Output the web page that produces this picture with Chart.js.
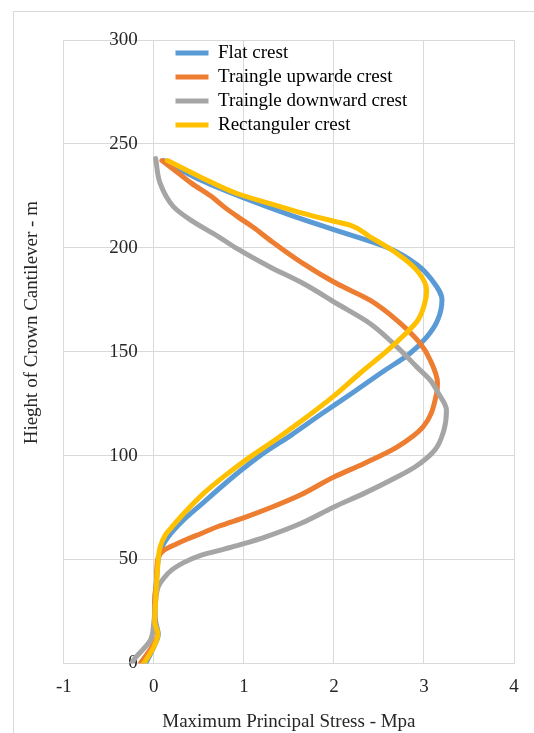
<!DOCTYPE html>
<html>
<head>
<meta charset="utf-8">
<title>Maximum Principal Stress</title>
<script src="https://cdn.jsdelivr.net/npm/chart.js@4.4.1/dist/chart.umd.min.js"></script>
<style>
    html, body { margin: 0; padding: 0; background: #fff; overflow: hidden; }
    #frame { position: absolute; left: 13px; top: 11px; width: 700px; height: 900px; border: 1px solid #d9d9d9; }
    #wrap { position: absolute; left: 0; top: 0; width: 534px; height: 733px; }
</style>
</head>
<body>
<div id="frame"></div>
<div id="wrap"><canvas id="stressChart"></canvas></div>
<script>
// series names
const seriesNames = ['Flat crest', 'Traingle upwarde crest', 'Traingle downward crest', 'Rectanguler crest'];

// flat crest (height m / stress Mpa)
const flatHeight = [242, 232, 224, 216, 208, 200, 192, 185, 175, 165, 157, 149, 140, 130, 120, 110, 100, 94, 85, 77, 69, 62, 56, 50, 40, 30, 20, 14, 8, 0];
const flatStress = [0.11, 0.55, 1.0, 1.5, 2.05, 2.6, 2.92, 3.08, 3.2, 3.15, 3.03, 2.84, 2.53, 2.2, 1.86, 1.53, 1.18, 1.0, 0.75, 0.54, 0.33, 0.18, 0.09, 0.05, 0.03, 0.01, 0.02, 0.05, 0.0, -0.09];

// triangle upward crest
const upHeight = [242, 235, 231, 225, 219.7, 215, 210, 203.7, 192.4, 182.8, 174.8, 165.1, 153.9, 145.9, 135, 129.8, 113.8, 104.1, 96.1, 89.7, 80.9, 75, 70.4, 66, 62.4, 60, 57.5, 54.4, 49.6, 40, 30, 20, 14, 8, 0];
const upStress = [0.09, 0.3, 0.42, 0.63, 0.78, 0.93, 1.1, 1.29, 1.66, 2.03, 2.4, 2.7, 2.96, 3.07, 3.15, 3.14, 2.99, 2.7, 2.33, 2.0, 1.62, 1.3, 1.02, 0.72, 0.52, 0.38, 0.25, 0.11, 0.04, 0.03, 0.01, 0.01, 0.04, -0.02, -0.15];

// triangle downward crest
const downHeight = [243, 231, 219.7, 213.3, 205.3, 199.7, 190.8, 182.8, 173.2, 163.6, 152.3, 142.7, 136.3, 130, 121.8, 112, 102.6, 94.5, 89.7, 81.7, 75.3, 67.3, 61, 57.6, 55, 52, 48.5, 45, 41, 37, 30, 20, 11, 3, 0];
const downStress = [0.02, 0.07, 0.22, 0.41, 0.72, 0.92, 1.29, 1.66, 2.03, 2.4, 2.7, 2.92, 3.07, 3.16, 3.25, 3.22, 3.12, 2.9, 2.7, 2.33, 2.0, 1.63, 1.25, 1.0, 0.78, 0.52, 0.33, 0.2, 0.11, 0.05, 0.02, 0.0, -0.04, -0.2, -0.25];

// rectangular crest
const rectHeight = [242, 234, 226, 221.3, 216.6, 212.5, 210.9, 205.3, 197.3, 189.2, 179.6, 172, 165, 158, 150, 140, 128, 115.4, 107, 99.4, 90, 81.7, 72, 65.6, 62, 56, 45, 30, 20, 14, 8, 0];
const rectStress = [0.15, 0.52, 0.93, 1.29, 1.66, 2.03, 2.18, 2.4, 2.7, 2.92, 3.03, 3.0, 2.93, 2.78, 2.58, 2.3, 1.98, 1.6, 1.33, 1.07, 0.78, 0.55, 0.33, 0.2, 0.13, 0.07, 0.04, 0.02, 0.01, 0.045, 0.0, -0.11];

// axis ticks
const xTicks = [-1, 0, 1, 2, 3, 4];
const yTicks = [0, 50, 100, 150, 200, 250, 300];

const lineColors = ['#5B9BD5', '#ED7D31', '#A5A5A5', '#FFC000'];

function toPoints(heights, stresses) {
    return heights.map((h, i) => ({ x: stresses[i], y: h }));
}

const serif = { family: "'Liberation Serif', 'Times New Roman', serif", size: 19 };
const textColor = '#262626';
const gridColor = '#d9d9d9';

// puts the legend box inside the plot and lifts the y title like the excel chart
const placeBoxes = {
    id: 'placeBoxes',
    afterLayout(chart) {
        var lg = chart.legend;
        if (lg) {
            var w = lg.width, h = lg.height;
            lg.left = 170.5; lg.top = 38.5;
            lg.right = lg.left + w; lg.bottom = lg.top + h;
        }
        var t = chart.scales.yTitle;
        if (t) { t.top -= 29; t.bottom -= 29; }
    }
};

var allPoints = [
    toPoints(flatHeight, flatStress),
    toPoints(upHeight, upStress),
    toPoints(downHeight, downStress),
    toPoints(rectHeight, rectStress)
];

// later series sit on top, like excel
var drawOrder = [3, 2, 1, 0];

var datasets = seriesNames.map((name, i) => ({
    label: name,
    data: allPoints[i],
    borderColor: lineColors[i],
    backgroundColor: lineColors[i],
    borderWidth: 5,
    borderCapStyle: 'round',
    borderJoinStyle: 'round',
    pointRadius: 0,
    pointHoverRadius: 0,
    showLine: true,
    cubicInterpolationMode: 'monotone',
    order: drawOrder[i]
}));

var ctx = document.getElementById('stressChart').getContext('2d');
var stressChart = new Chart(ctx, {
    type: 'scatter',
    data: { datasets: datasets },
    plugins: [placeBoxes],
    options: {
        responsive: true,
        maintainAspectRatio: false,
        animation: false,
        devicePixelRatio: 1,
        indexAxis: 'y',
        layout: { padding: { left: 13, top: 40, right: 20, bottom: 0 } },
        plugins: {
            tooltip: { enabled: false },
            legend: {
                position: 'chartArea',
                align: 'start',
                labels: {
                    usePointStyle: true,
                    pointStyle: 'line',
                    pointStyleWidth: 33,
                    padding: 5,
                    color: '#000',
                    font: serif,
                    sort: (a, b) => a.datasetIndex - b.datasetIndex
                }
            }
        },
        scales: {
            x: {
                type: 'linear',
                position: 'bottom',
                min: xTicks[0],
                max: xTicks[xTicks.length - 1],
                afterBuildTicks: (scale) => { scale.ticks = xTicks.map(v => ({ value: v })); },
                ticks: { padding: 12, color: textColor, font: serif },
                grid: { color: gridColor, lineWidth: 1, drawTicks: false },
                border: { color: gridColor },
                title: {
                    display: true,
                    text: 'Maximum Principal Stress - Mpa',
                    color: textColor,
                    font: serif,
                    padding: { top: 0, bottom: 0 }
                }
            },
            y: {
                type: 'linear',
                // labels sit just left of the x = 0 line
                position: { x: -0.18 },
                min: yTicks[0],
                max: yTicks[yTicks.length - 1],
                afterBuildTicks: (scale) => { scale.ticks = yTicks.map(v => ({ value: v })); },
                ticks: { padding: 0, color: textColor, font: serif },
                grid: { color: gridColor, lineWidth: 1, drawTicks: false },
                border: { display: false }
            },
            yTitle: {
                type: 'linear',
                position: 'left',
                min: yTicks[0],
                max: yTicks[yTicks.length - 1],
                ticks: { display: false },
                grid: { display: false, drawTicks: false },
                border: { display: false },
                title: {
                    display: true,
                    text: 'Hieght of Crown Cantilever - m',
                    color: textColor,
                    font: serif,
                    padding: { top: 8, bottom: 20 }
                }
            }
        }
    }
});
</script>
</body>
</html>
